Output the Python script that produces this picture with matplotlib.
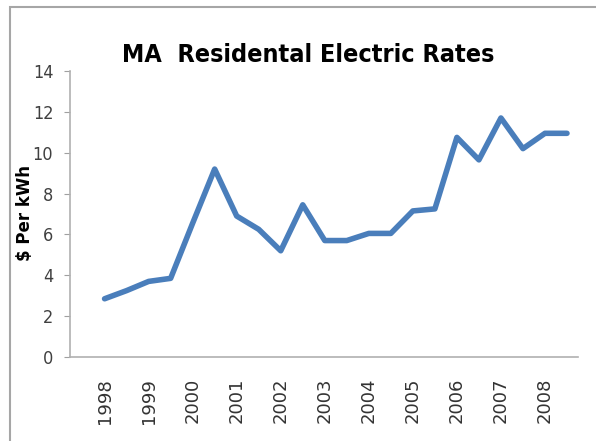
import matplotlib
matplotlib.use('Agg')
from matplotlib import pyplot as plt
from matplotlib.patches import Rectangle

# half-year readings, labels every full year
years = ['1998', '1999', '2000', '2001', '2002', '2003',
         '2004', '2005', '2006', '2007', '2008']
rates = [2.85, 3.25, 3.7, 3.85, 6.55, 9.2, 6.9, 6.25, 5.2, 7.45, 5.7,
         5.7, 6.05, 6.05, 7.15, 7.25, 10.75, 9.65, 11.7, 10.2, 10.95, 10.95]
yticks = [0, 2, 4, 6, 8, 10, 12, 14]

fig = plt.figure(figsize=(5.96, 4.41), dpi=100)
ax = fig.add_axes([70/596, 84/441, 508/596, 286/441])

# outer chart frame (runs off right and bottom edge)
fig.patches.append(Rectangle((10/596, -0.1), 1.2, (441-7)/441 + 0.1,
                             transform=fig.transFigure, fill=False,
                             edgecolor='#a6a6a6', linewidth=1.5))

x = list(range(len(rates)))
ax.plot(x, rates, color='#4a7ebb', linewidth=4,
        solid_joinstyle='round', solid_capstyle='round')

ax.set_xlim(-1.57, 21.5)
ax.set_ylim(0, 14)
ax.set_yticks(yticks)
ax.set_yticklabels([str(v) for v in yticks], fontsize=13, stretch='condensed',
                   color='#404040')
ax.set_xticks(x[::2])
ax.set_xticklabels(years, rotation=90, fontsize=13, color='#333333')
ax.tick_params(axis='x', length=0, pad=15)
ax.tick_params(axis='y', length=4, color='#a0a0a0', pad=8)

for s in ['top', 'right']:
    ax.spines[s].set_visible(False)
for s in ['left', 'bottom']:
    ax.spines[s].set_color('#b0b0b0')
    ax.spines[s].set_linewidth(1.2)

fig.text(25/596, 1 - 213/441, '$ Per kWh', rotation=90, ha='center',
         va='center', fontsize=12, fontweight='bold')
fig.text(308/596, 1 - 55/441, 'MA  Residental Electric Rates', ha='center',
         va='center', fontsize=18, stretch='condensed', fontweight='bold')

fig.savefig('out.png', dpi=100)
